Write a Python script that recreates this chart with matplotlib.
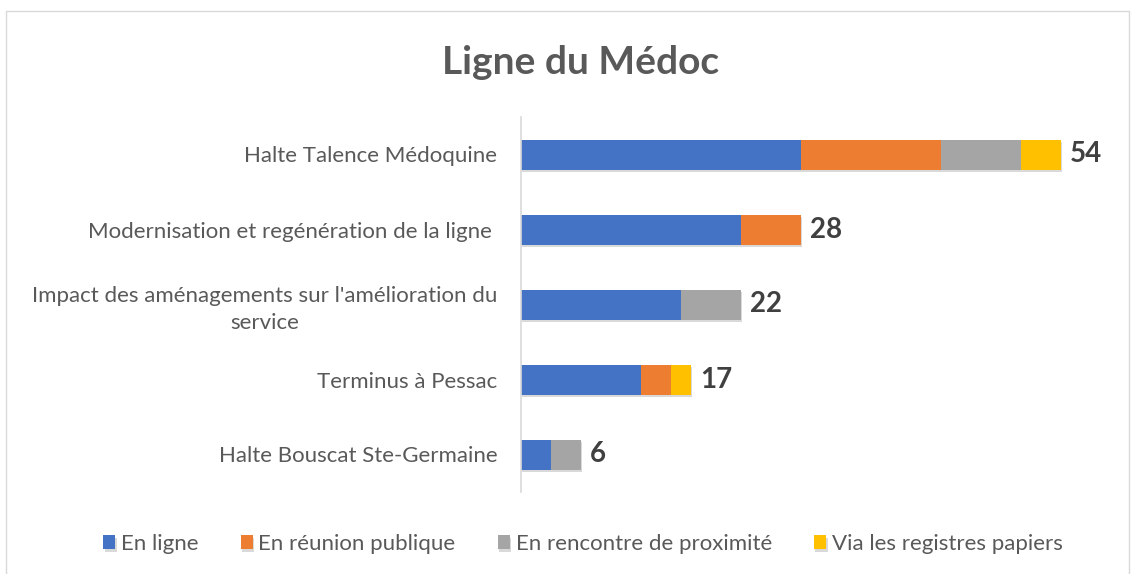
import matplotlib
matplotlib.use("Agg")
import matplotlib.pyplot as plt
import matplotlib.patheffects as pe
from matplotlib.patches import Rectangle
import numpy as np

categories = ["Halte Talence Médoquine",
              "Modernisation et regénération de la ligne ",
              "Impact des aménagements sur l'amélioration du\nservice",
              "Terminus à Pessac",
              "Halte Bouscat Ste-Germaine"]
series_names = ["En ligne", "En réunion publique", "En rencontre de proximité", "Via les registres papiers"]
en_ligne = [28, 22, 16, 12, 3]
reunion = [14, 6, 0, 3, 0]
rencontre = [8, 0, 6, 0, 3]
registres = [4, 0, 0, 2, 0]
totals = [54, 28, 22, 17, 6]

colors = ["#4472C4", "#ED7D31", "#A5A5A5", "#FFC000"]
font = ["Lato", "DejaVu Sans"]
plt.rcParams['font.family'] = font

fig = plt.figure(figsize=(11.32, 5.74), dpi=100)
fig.patches.append(Rectangle((0.005, -0.01), 0.992, 0.99, transform=fig.transFigure,
                             fill=False, edgecolor="#D9D9D9", linewidth=1))
ax = fig.add_axes([521/1132, 1-492/574, 600/1132, 375/574])

y = np.arange(len(categories))
left = np.zeros(len(categories))
shadow = [pe.SimplePatchShadow(offset=(1, -2), shadow_rgbFace="#000000", alpha=0.15), pe.Normal()]
for vals, name, c in zip([en_ligne, reunion, rencontre, registres], series_names, colors):
    vals = np.array(vals, dtype=float)
    bars = ax.barh(y, vals, left=left, height=0.4, color=c, label=name, zorder=2)
    for b in bars:
        b.set_path_effects(shadow)
    left += vals

for yi, t in zip(y, totals):
    ax.text(t + 0.9, yi, str(t), va="center", ha="left", fontsize=20, fontweight="bold", color="#404040")

ax.set_xlim(0, 60)
ax.set_ylim(len(categories) - 0.5, -0.5)
ax.set_yticks(y)
ax.set_yticklabels(categories, fontsize=16, color="#595959", multialignment="center", linespacing=1.4)
ax.tick_params(axis="y", length=0, pad=17)
ax.set_xticks([])
for s in ["top", "right", "bottom"]:
    ax.spines[s].set_visible(False)
ax.spines["left"].set_color("#D9D9D9")
ax.spines["left"].set_linewidth(1.2)

fig.text(581/1132, 1 - 62/574, "Ligne du Médoc", ha="center", va="center", fontsize=28,
         fontweight="bold", color="#595959")

leg = fig.legend(loc="center", bbox_to_anchor=(0.515, 1 - 544/574), ncol=4, frameon=False,
                 fontsize=16, handlelength=0.55, handleheight=0.55, handletextpad=0.25, columnspacing=1.9,
                 labelcolor="#595959")

fig.savefig("out.png", dpi=100, facecolor="white")
